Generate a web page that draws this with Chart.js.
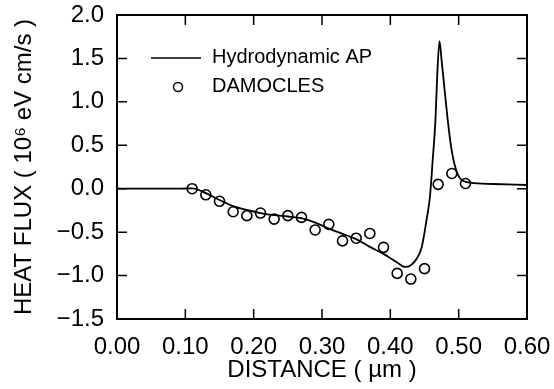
<!DOCTYPE html>
<html>
<head>
<meta charset="utf-8">
<script src="https://cdn.jsdelivr.net/npm/chart.js@4"></script>
<style>
  html, body { margin: 0; padding: 0; background: #fff; }
</style>
</head>
<body>
<canvas id="grafico" width="554" height="389"></canvas>
<script>
// curva del modelo hidrodinámico
const lineaX = [0, 0.05, 0.09, 0.11, 0.13, 0.15, 0.17, 0.19, 0.21, 0.23, 0.25, 0.27, 0.29, 0.31, 0.33, 0.35, 0.37, 0.39, 0.41, 0.422, 0.43, 0.439, 0.446, 0.453, 0.458, 0.462, 0.466, 0.469, 0.472, 0.475, 0.479, 0.484, 0.489, 0.495, 0.502, 0.517, 0.55, 0.60];
const lineaY = [0, 0, 0, 0.005, -0.05, -0.13, -0.2, -0.245, -0.28, -0.305, -0.32, -0.34, -0.39, -0.46, -0.52, -0.58, -0.67, -0.75, -0.85, -0.90, -0.88, -0.80, -0.67, -0.36, -0.09, 0.33, 0.79, 1.37, 1.70, 1.48, 1.17, 0.79, 0.48, 0.25, 0.12, 0.07, 0.054, 0.043];

// puntos DAMOCLES
const puntosX = [0.11, 0.13, 0.15, 0.17, 0.19, 0.21, 0.23, 0.25, 0.27, 0.29, 0.31, 0.33, 0.35, 0.37, 0.39, 0.41, 0.43, 0.45, 0.47, 0.49, 0.51];
const puntosY = [0.00, -0.07, -0.145, -0.265, -0.31, -0.28, -0.35, -0.31, -0.33, -0.475, -0.41, -0.60, -0.57, -0.515, -0.675, -0.975, -1.04, -0.92, 0.05, 0.175, 0.06];

const etiquetasX = ['0.00', '0.10', '0.20', '0.30', '0.40', '0.50', '0.60'];
const etiquetasY = ['\u22121.5', '\u22121.0', '\u22120.5', '0.0', '0.5', '1.0', '1.5', '2.0'];

const fuente = "'Liberation Sans', Arial, Helvetica, sans-serif";

// marco, marcas hacia adentro y leyenda
const marco = {
    id: 'marco',
    afterDatasetsDraw(chart) {
        const { ctx, chartArea: a, scales: { x, y } } = chart;
        ctx.save();
        ctx.strokeStyle = '#000';
        ctx.lineWidth = 1.5;
        ctx.beginPath();
        x.ticks.forEach((t) => {
            const px = x.getPixelForValue(t.value);
            if (px <= a.left + 1 || px >= a.right - 1) return;
            ctx.moveTo(px, a.bottom); ctx.lineTo(px, a.bottom - 10);
            ctx.moveTo(px, a.top); ctx.lineTo(px, a.top + 10);
        });
        y.ticks.forEach((t) => {
            const py = y.getPixelForValue(t.value);
            if (py <= a.top + 1 || py >= a.bottom - 1) return;
            ctx.moveTo(a.left, py); ctx.lineTo(a.left + 10, py);
            ctx.moveTo(a.right, py); ctx.lineTo(a.right - 10, py);
        });
        ctx.stroke();
        ctx.lineWidth = 2;
        ctx.strokeRect(a.left, a.top, a.width, a.height);

        // leyenda
        const ds = chart.data.datasets;
        ctx.font = '20px ' + fuente;
        ctx.fillStyle = '#000';
        ctx.textBaseline = 'middle';
        ctx.lineWidth = 1.5;
        ctx.beginPath();
        ctx.moveTo(151, 58); ctx.lineTo(201, 58);
        ctx.stroke();
        ctx.fillText(ds[0].label, 212, 57);
        ctx.beginPath();
        ctx.arc(178, 87, 4.5, 0, Math.PI * 2);
        ctx.stroke();
        ctx.fillText(ds[1].label, 212, 86);
        ctx.restore();
    }
};

new Chart(document.getElementById('grafico'), {
    type: 'scatter',
    data: {
        datasets: [
            {
                label: 'Hydrodynamic AP',
                data: lineaX.map((x, i) => ({ x, y: lineaY[i] })),
                showLine: true,
                borderColor: '#000',
                borderWidth: 1.8,
                pointRadius: 0,
                cubicInterpolationMode: 'monotone',
            },
            {
                label: 'DAMOCLES',
                data: puntosX.map((x, i) => ({ x, y: puntosY[i] })),
                pointRadius: 5,
                pointBorderWidth: 1.6,
                pointBorderColor: '#000',
                pointBackgroundColor: 'rgba(0,0,0,0)',
            },
        ],
    },
    options: {
        responsive: false,
        animation: false,
        devicePixelRatio: 1,
        layout: { padding: { top: 15, right: 27, left: 0, bottom: 0 } },
        plugins: { legend: { display: false }, tooltip: { enabled: false } },
        scales: {
            x: {
                min: 0,
                max: 0.6,
                grid: { display: false, drawTicks: false },
                border: { display: false },
                afterFit: (s) => {
                    s.height = 70;
                    s.paddingLeft = 0;
                    s.paddingRight = 0;
                },
                ticks: {
                    stepSize: 0.1,
                    padding: 14,
                    color: '#000',
                    font: { family: fuente, size: 24 },
                    callback: (v, i) => etiquetasX[i],
                },
                title: {
                    display: true,
                    text: 'DISTANCE ( \u00b5m )',
                    color: '#000',
                    font: { family: fuente, size: 24 },
                    padding: { top: 0, bottom: 4 },
                },
            },
            y: {
                min: -1.5,
                max: 2,
                grid: { display: false, drawTicks: false },
                border: { display: false },
                afterFit: (s) => {
                    s.width = 117;
                    s.paddingTop = 0;
                    s.paddingBottom = 0;
                },
                ticks: {
                    stepSize: 0.5,
                    padding: 13,
                    color: '#000',
                    font: { family: fuente, size: 24 },
                    callback: (v, i) => etiquetasY[i],
                },
                title: {
                    display: true,
                    text: 'HEAT FLUX ( 10\u2076 eV cm/s )',
                    color: '#000',
                    font: { family: fuente, size: 24 },
                    padding: { top: 10, bottom: 0 },
                },
            },
        },
    },
    plugins: [marco],
});
</script>
</body>
</html>
